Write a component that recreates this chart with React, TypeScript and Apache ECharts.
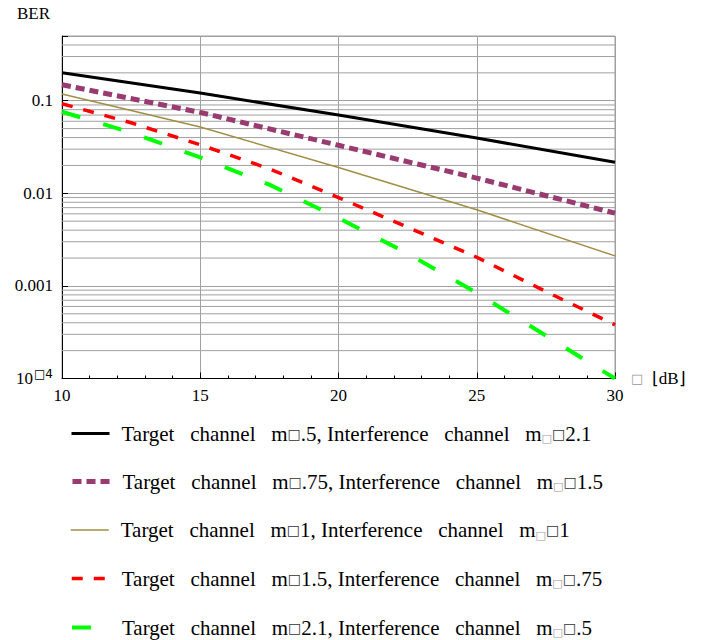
import React, { useEffect, useRef } from "react";
import * as echarts from "echarts";

// x: SNR in dB
const snrCoarse = [10, 15, 20, 25, 30];
const snrFine = [10, 12.5, 15, 17.5, 20, 22.5, 25, 27.5, 30];

// BER values
const berM05 = [0.2, 0.121, 0.07, 0.0395, 0.0217];
const berM075 = [0.149, 0.0748, 0.033, 0.0146, 0.0061];
const berM1 = [0.118, 0.052, 0.019, 0.00664, 0.00211];
const berM15 = [0.0928, 0.0578, 0.0334, 0.0184, 0.009, 0.0043, 0.00204, 0.00087, 0.00038];
const berM21 = [0.076, 0.0452, 0.0244, 0.0124, 0.0054, 0.00224, 0.00084, 0.00029, 0.0001];

const targetM = [".5", ".75", "1", "1.5", "2.1"];
const interfM = ["2.1", "1.5", "1", ".75", ".5"];
const yMinorLines = [
  2e-4, 3e-4, 4e-4, 5e-4, 6e-4, 7e-4, 8e-4, 9e-4,
  2e-3, 3e-3, 4e-3, 5e-3, 6e-3, 7e-3, 8e-3, 9e-3,
  0.02, 0.03, 0.04, 0.05, 0.06, 0.07, 0.08, 0.09,
  0.2, 0.3, 0.4,
];
const decadeLabels: Record<string, string> = {
  "-1": "0.1",
  "-2": "0.01",
  "-3": "0.001",
  "-4": "10{s|□4}",
};

const FONT = "'Liberation Serif', 'Times New Roman', serif";
const SP = "   ";

const names = targetM.map(
  (t, i) => `Target${SP}channel${SP}m□${t}, Interference${SP}channel${SP}m□□${interfM[i]}`
);

function legendLabel(i: number): string {
  return `Target${SP}channel${SP}m{b|□}${targetM[i]}, Interference${SP}channel${SP}m{s|□}{b|□}${interfM[i]}`;
}

const zip = (xs: number[], ys: number[]) => xs.map((x, i) => [x, ys[i]]);

export default function App() {
  const ref = useRef<HTMLDivElement>(null);
  useEffect(() => {
    document.body.style.margin = "0";
    if (!ref.current) return;
    const chart = echarts.init(ref.current, null, { renderer: "svg" });
    const styles = [
      { color: "#000000", width: 3, type: "solid" as any },
      { color: "#993a70", width: 5, type: [9, 5] as any },
      { color: "#a08e45", width: 1.5, type: "solid" as any },
      { color: "#ff0000", width: 3.5, type: [11, 11] as any },
      { color: "#00ff00", width: 4, type: [19, 24] as any },
    ];
    const datas = [
      zip(snrCoarse, berM05),
      zip(snrCoarse, berM075),
      zip(snrCoarse, berM1),
      zip(snrFine, berM15),
      zip(snrFine, berM21),
    ];
    const xMin = 10;
    const xMax = 30;
    const series: any[] = yMinorLines.map((v, k) => ({
      name: "grid" + k,
      type: "line",
      data: [
        [xMin, v],
        [xMax, v],
      ],
      symbol: "none",
      silent: true,
      lineStyle: { color: "#a0a0a0", width: 1 },
      z: 1,
    }));
    datas.forEach((d, i) =>
      series.push({
        name: names[i],
        type: "line",
        data: d,
        symbol: "none",
        showSymbol: false,
        smooth: false,
        lineStyle: styles[i],
        itemStyle: { color: styles[i].color },
        z: 10 - i,
      })
    );

    const legendCenters = [433, 481, 529.5, 578, 627];
    const legends = names.map((n, i) => ({
      orient: "vertical",
      left: 65,
      top: legendCenters[i] - 15,
      itemWidth: 38,
      itemHeight: 14,
      data: [n],
      itemStyle: { opacity: 0 },
      lineStyle: { width: "inherit" },
      formatter: (name: string) => legendLabel(names.indexOf(name)),
      textStyle: {
        fontFamily: FONT,
        fontSize: 21,
        color: "#000",
        padding: [0, 0, 0, 7],
        rich: {
          b: { fontFamily: "DejaVu Sans", fontSize: 14, color: "#333" },
          s: {
            fontFamily: "DejaVu Sans",
            fontSize: 11,
            color: "#999",
            verticalAlign: "top",
            padding: [10, 0, 0, 0],
          },
        },
      },
    }));

    chart.setOption({
      animation: false,
      backgroundColor: "#ffffff",
      textStyle: { fontFamily: FONT },
      grid: {
        left: 62,
        right: 97,
        top: 36,
        bottom: 261.5,
        show: true,
        borderColor: "#a0a0a0",
        borderWidth: 1,
      },
      xAxis: {
        type: "value",
        min: xMin,
        max: xMax,
        interval: 5,
        name: "{g|□}  ⌊dB⌋",
        nameLocation: "end",
        nameGap: 16,
        nameTextStyle: {
          fontFamily: FONT,
          fontSize: 17,
          color: "#000",
          rich: { g: { fontFamily: "DejaVu Sans", fontSize: 13, color: "#999" } },
        },
        axisLine: { show: true, lineStyle: { color: "#000", width: 1 } },
        axisTick: { show: true, inside: true, length: 6, lineStyle: { color: "#000" } },
        minorTick: { show: true, splitNumber: 5, length: 3, lineStyle: { color: "#000" } },
        splitLine: { show: true, lineStyle: { color: "#a0a0a0", width: 1 } },
        axisLabel: {
          fontFamily: FONT,
          fontSize: 17,
          color: "#000",
          margin: 8,
        },
      },
      yAxis: {
        type: "log",
        logBase: 10,
        min: 1e-4,
        max: 0.5,
        name: "BER",
        nameLocation: "end",
        nameGap: 14,
        nameTextStyle: {
          fontFamily: FONT,
          fontSize: 17,
          color: "#000",
          align: "right",
          padding: [0, 12, 0, 0],
        },
        axisLine: { show: true, lineStyle: { color: "#000", width: 1 } },
        axisTick: { show: true, inside: true, length: 6, lineStyle: { color: "#000" } },
        splitLine: { show: true, lineStyle: { color: "#a0a0a0", width: 1 } },
        axisLabel: {
          fontFamily: FONT,
          fontSize: 17,
          color: "#000",
          margin: 9,
          formatter: (v: number) => {
            const e = Math.round(Math.log10(v));
            if (Math.abs(Math.log10(v) - e) > 1e-6) return "";
            return decadeLabels[String(e)] ?? "";
          },
          rich: {
            s: {
              fontFamily: "DejaVu Sans",
              fontSize: 12,
              color: "#000",
              padding: [0, 0, 9, 1],
              verticalAlign: "bottom",
            },
          },
        },
      },
      legend: legends,
      series,
    });
    return () => chart.dispose();
  }, []);
  return <div ref={ref} style={{ width: 712, height: 640 }} />;
}
